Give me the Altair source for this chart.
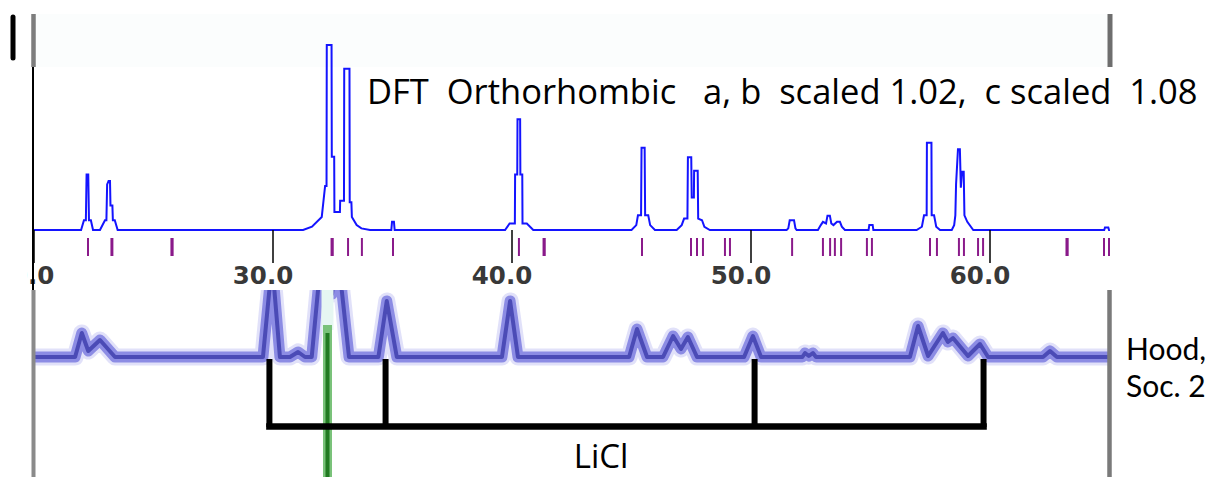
import altair as alt
import pandas as pd

# ---------------- data (2-theta in degrees) ----------------
# DFT simulated pattern (upper panel): 2theta and intensity (100 = panel top)
top_x = [20.00,
         21.97, 22.09, 22.17, 22.20, 22.27, 22.30, 22.38, 22.47,
         22.76, 22.97, 23.03, 23.06, 23.12, 23.18, 23.20, 23.28, 23.30, 23.38, 23.50,
         31.26, 31.63, 32.04, 32.18, 32.24, 32.25, 32.45, 32.46, 32.56, 32.57, 32.80, 32.81,
         32.97, 32.98, 33.20, 33.21, 33.28, 33.30, 33.50, 33.70, 34.06,
         34.95, 34.98, 35.06, 35.09,
         39.71, 39.90, 40.12, 40.13, 40.22, 40.23, 40.34, 40.35, 40.43, 40.44, 40.62, 40.89,
         45.00, 45.20, 45.27, 45.40, 45.42, 45.55, 45.57, 45.70, 45.78, 45.98,
         46.89, 47.10, 47.20, 47.34, 47.36, 47.50, 47.52, 47.61, 47.62, 47.77, 47.79, 47.95, 48.05, 48.28,
         51.49, 51.56, 51.62, 51.80, 51.86, 51.91,
         52.80, 52.92, 53.01, 53.14, 53.20, 53.30, 53.36, 53.45, 53.60, 53.72, 53.80, 53.93,
         54.92, 54.95, 55.09, 55.12,
         56.93, 57.15, 57.24, 57.35, 57.36, 57.55, 57.56, 57.66, 57.75, 57.91,
         58.40, 58.50, 58.55, 58.58, 58.66, 58.74, 58.78, 58.83, 58.90, 58.93, 59.05, 59.30,
         64.78, 64.81, 64.95, 64.98,
         65.02]
top_i = [0,
         0, 6, 6, 34, 34, 6, 6, 0,
         0, 6, 6, 28, 30, 30, 15, 15, 6, 6, 0,
         0, 2, 8, 27, 27, 113.5, 113.5, 45, 45, 11, 11, 18,
         18, 99, 99, 17, 17, 8, 3, 1, 0,
         0, 5, 5, 0,
         0, 4, 4, 34, 34, 68, 68, 34, 34, 4, 4, 0,
         0, 3, 9, 9, 50.5, 50.5, 9, 9, 3, 0,
         0, 3, 7, 7, 44.6, 44.6, 20, 20, 36.4, 36.4, 7, 6, 2, 0,
         0, 1, 6, 6, 1, 0,
         0, 3, 5, 4, 8.8, 8.8, 4, 3, 5, 5, 2, 0,
         0, 3, 3, 0,
         0, 2, 9, 9, 53.6, 53.6, 9, 9, 2, 0,
         0, 3, 9, 28, 49.5, 49.5, 26, 35.8, 35.8, 9, 5, 0,
         0, 1.5, 1.5, 0,
         0]

# Measured pattern (Hood et al., lower panel): 2theta and intensity
bot_x = [20.00,
         21.72, 22.00, 22.27, 22.76, 23.39,
         29.58, 29.96, 30.29,
         30.71, 31.05, 31.34,
         31.62, 31.88, 32.05, 32.30, 32.47, 32.60, 32.80, 32.88, 33.18,
         34.41, 34.76, 35.18,
         39.58, 39.92, 40.25,
         44.90, 45.23, 45.65,
         46.32, 46.74, 47.07, 47.36, 47.74,
         49.71, 50.08, 50.42,
         52.15, 52.26, 52.42, 52.59, 52.72,
         56.65, 56.99, 57.41, 58.03, 58.24, 58.45, 59.08, 59.58, 59.92,
         62.22, 62.51, 62.80,
         64.94]
bot_j = [0,
         0, 24, 6, 17, 0,
         0, 95, 0,
         0, 5, 0,
         0, 66, 95, 95, 63, 95, 95, 66, 0,
         0, 56, 0,
         0, 56, 0,
         0, 28, 0,
         0, 21, 8, 20, 0,
         0, 21, 0,
         0, 4, 1, 4, 0,
         0, 31, 1, 24, 15, 19, 1, 13, 0,
         0, 6, 0,
         0]

# calculated reflection positions (purple tick marks)
reflections = [22.26, 23.24, 23.28, 25.75, 25.80, 32.45, 32.50, 33.14, 33.72, 35.02,
               40.29, 41.32, 41.37, 45.44, 47.49, 47.74, 47.99, 48.91, 49.12, 51.72,
               53.01, 53.31, 53.51, 53.77, 54.85, 55.06, 57.49, 57.78, 58.70, 58.91,
               59.50, 59.71, 63.20, 63.25, 64.77, 64.98]

# LiCl reflections (bracket legs) and the green marker line
licl_peaks = [29.85, 34.71, 50.15, 59.73]
green_line = [32.28]

# axis tick values
tick_values = [20, 30, 40, 50, 60]

title_text = "DFT\u00a0 Orthorhombic\u00a0\u00a0 a, b\u00a0 scaled 1.02,\u00a0 c scaled\u00a0 1.08"
ref_line1 = "Hood,"
ref_line2 = "Soc. 2"
licl_label = "LiCl"

# ---------------- chart ----------------
W, H = 1207, 477
xs = alt.Scale(domain=[18.5774, 69.0795], nice=False, zero=False)
top_ys = alt.Scale(domain=[-151.53, 141.10], nice=False, zero=False)
bot_ys = alt.Scale(domain=[-120, 357], nice=False, zero=False)

top_df = pd.DataFrame({"deg": top_x, "I": top_i, "idx": list(range(len(top_x)))})
bot_df = pd.DataFrame({"deg": bot_x, "J": bot_j, "idx": list(range(len(bot_x)))})
refl_df = pd.DataFrame({"deg": reflections})
licl_df = pd.DataFrame({"deg": licl_peaks})
green_df = pd.DataFrame({"deg": green_line})
tick_df = pd.DataFrame({"v": tick_values})

one = alt.Data(values=[{"a": 1}])


def rect(x1, x2, y1, y2, color):
    return alt.Chart(one).mark_rect(color=color).encode(
        x=alt.value(x1), x2=alt.value(x2), y=alt.value(y1), y2=alt.value(y2))


def vrule(x, y1, y2, color, w, cap="butt"):
    return alt.Chart(one).mark_rule(color=color, strokeWidth=w, strokeCap=cap).encode(
        x=alt.value(x), y=alt.value(y1), y2=alt.value(y2))


def text(t, x, y, size, align="left", font="Open Sans", baseline="alphabetic"):
    return alt.Chart(one).mark_text(text=t, font=font, fontSize=size, align=align,
                                    baseline=baseline, color="black").encode(
        x=alt.value(x), y=alt.value(y))


strip = rect(33, 1110, 14, 67, "#fbfdfd")

top_line = alt.Chart(top_df).mark_line(color="#1414ff", strokeWidth=2).encode(
    x=alt.X("deg:Q", scale=xs, axis=None),
    y=alt.Y("I:Q", scale=top_ys, axis=None),
    order="idx:Q")


def bot_layer(color, w, op):
    return alt.Chart(bot_df).mark_line(color=color, strokeWidth=w, opacity=op,
                                       strokeJoin="round", strokeCap="butt").encode(
        x=alt.X("deg:Q", scale=xs, axis=None),
        y=alt.Y("J:Q", scale=bot_ys, axis=None),
        order="idx:Q")


bot_halo = bot_layer("#dedef8", 17, 0.9)
bot_mid = bot_layer("#7d7de0", 11, 0.85)
bot_core = bot_layer("#3f3fae", 4, 0.85)

band = rect(0, W, 252, 290, "white")

green_glow = alt.Chart(green_df).mark_rule(color="#e6f6f2", strokeWidth=12).encode(
    x=alt.X("deg:Q", scale=xs, axis=None), y=alt.value(290), y2=alt.value(330))
green_outer = alt.Chart(green_df).mark_rule(color="#79c279", strokeWidth=9).encode(
    x=alt.X("deg:Q", scale=xs, axis=None), y=alt.value(325), y2=alt.value(H))
green_core = alt.Chart(green_df).mark_rule(color="#227a22", strokeWidth=4).encode(
    x=alt.X("deg:Q", scale=xs, axis=None), y=alt.value(333), y2=alt.value(H))

legs = alt.Chart(licl_df).mark_rule(color="black", strokeWidth=6).encode(
    x=alt.X("deg:Q", scale=xs, axis=None), y=alt.value(359), y2=alt.value(427))
bar = alt.Chart(licl_df).transform_aggregate(
    lo="min(deg)", hi="max(deg)").mark_rule(
    color="black", strokeWidth=6.5, strokeCap="square").encode(
    x=alt.X("lo:Q", scale=xs, axis=None), x2="hi:Q", y=alt.value(426.5))

refl_ticks = alt.Chart(refl_df).mark_rule(color="#8a1a8a", strokeWidth=2).encode(
    x=alt.X("deg:Q", scale=xs, axis=None), y=alt.value(238), y2=alt.value(256))

axis_ticks = alt.Chart(tick_df).mark_rule(color="black", strokeWidth=1.5).encode(
    x=alt.X("v:Q", scale=xs, axis=None), y=alt.value(230), y2=alt.value(263))
axis_labels = alt.Chart(tick_df).mark_text(
    font="DejaVu Sans", fontSize=24.5, fontWeight="bold", color="#383838",
    baseline="top", align="center", dx=-10).encode(
    x=alt.X("v:Q", scale=xs, axis=None), y=alt.value(265),
    text=alt.Text("v:Q", format=".1f"))
label_cover = rect(0, 27, 262, 290, "white")

borders = [
    vrule(33.5, 14, 67, "#7d7d7d", 4.5),
    vrule(33, 67, 290, "black", 2),
    vrule(33.5, 290, H, "#8a8a8a", 4),
    vrule(1110, 14, 67, "#6e6e6e", 5),
    vrule(1109.5, 290, H, "#7a7a7a", 4.5),
    vrule(13, 17, 58, "black", 5, "round"),
]

texts = [
    text(title_text, 367, 104, 34.5),
    text(licl_label, 601, 475, 33, align="center", baseline="bottom"),
    text(ref_line1, 1126, 360, 30, font="Lato"),
    text(ref_line2, 1126, 397, 30, font="Lato"),
]

chart = alt.layer(
    strip, top_line, bot_halo, bot_mid, bot_core, band,
    green_glow, green_outer, green_core, legs, bar,
    refl_ticks, axis_ticks, axis_labels, label_cover,
    *borders, *texts
).resolve_scale(y="independent").properties(
    width=W, height=H, padding=0,
    autosize=alt.AutoSizeParams(type="none"),
    background="white"
).configure_view(stroke=None)

chart.save("out.html", embed_options={"renderer": "svg", "actions": False})
